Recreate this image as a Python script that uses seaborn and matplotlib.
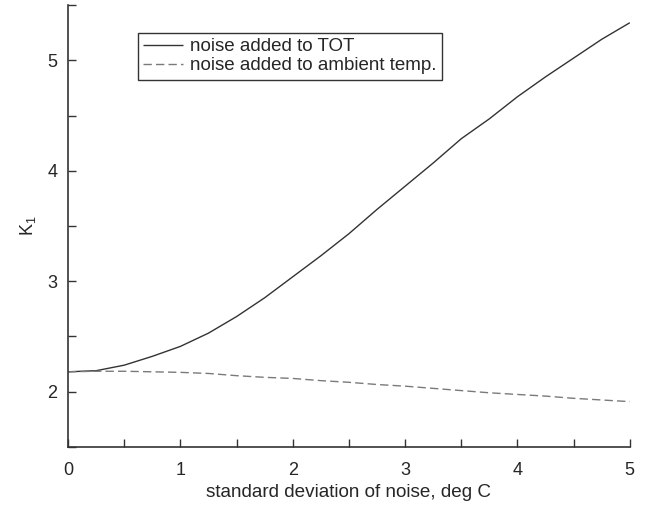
import matplotlib
matplotlib.use("Agg")
import matplotlib.pyplot as plt
import pandas as pd
import seaborn as sns
from matplotlib.ticker import MultipleLocator

# data
noise_sd = [0, 0.25, 0.5, 0.75, 1.0, 1.25, 1.5, 1.75, 2.0, 2.25, 2.5,
            2.75, 3.0, 3.25, 3.5, 3.75, 4.0, 4.25, 4.5, 4.75, 5.0]
k1_tot = [2.18, 2.19, 2.24, 2.32, 2.41, 2.53, 2.68, 2.85, 3.04, 3.23, 3.43,
          3.65, 3.86, 4.07, 4.29, 4.47, 4.67, 4.85, 5.02, 5.19, 5.34]
k1_ambient = [2.18, 2.185, 2.185, 2.18, 2.175, 2.165, 2.145, 2.13, 2.12, 2.10, 2.085,
              2.065, 2.05, 2.03, 2.01, 1.99, 1.975, 1.96, 1.94, 1.925, 1.91]
labels = ["noise added to TOT", "noise added to ambient temp."]

df = pd.DataFrame({
    "sd": noise_sd * 2,
    "K1": k1_tot + k1_ambient,
    "series": [labels[0]] * len(noise_sd) + [labels[1]] * len(noise_sd),
})

sns.set_style("ticks")
plt.rcParams["font.family"] = ["Liberation Sans", "DejaVu Sans"]

fig, ax = plt.subplots(figsize=(6.54, 5.05), dpi=100)
fig.subplots_adjust(left=0.104, right=0.963, top=0.99, bottom=0.115)

sns.lineplot(data=df, x="sd", y="K1", hue="series", style="series",
             palette=["#333333", "#7a7a7a"], dashes=[(1, 0), (6, 3)],
             linewidth=1.0, ax=ax)

ax.set_xlim(0, 5)
ax.set_ylim(1.5, 5.5)
ax.xaxis.set_major_locator(MultipleLocator(1))
ax.xaxis.set_minor_locator(MultipleLocator(0.5))
ax.yaxis.set_major_locator(MultipleLocator(1))
ax.yaxis.set_minor_locator(MultipleLocator(0.5))
ax.tick_params(which="both", direction="in", length=6, width=1, color="#333333")
ax.tick_params(axis="both", labelsize=13)
ax.tick_params(axis="x", pad=10.5)
ax.tick_params(axis="y", pad=7.5)
for s in ["top", "right"]:
    ax.spines[s].set_visible(False)
for s in ["left", "bottom"]:
    ax.spines[s].set_color("#333333")
    ax.spines[s].set_linewidth(1.2)

ax.set_xlabel("standard deviation of noise, deg C", fontsize=13.6, labelpad=4)
ax.set_ylabel(r"$\mathregular{K_1}$", fontsize=13, labelpad=7)

leg = ax.legend(loc="upper left", bbox_to_anchor=(0.125, 0.937), frameon=True,
                fancybox=False, edgecolor="black", fontsize=13.5,
                handlelength=2.1, handletextpad=0.4, borderpad=0.28,
                labelspacing=0.1, borderaxespad=0)
leg.get_frame().set_linewidth(1.0)

fig.savefig("out.png", dpi=100)
